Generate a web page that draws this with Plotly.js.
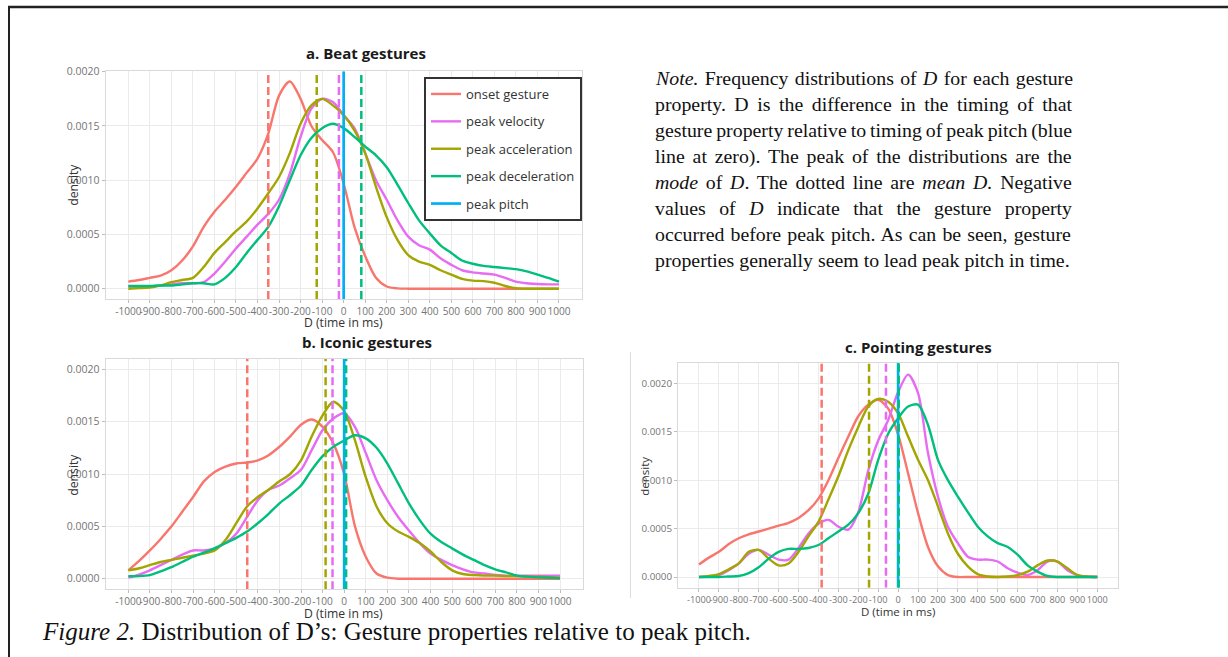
<!DOCTYPE html>
<html><head><meta charset="utf-8">
<script src="https://cdn.plot.ly/plotly-3.0.1.min.js"></script>
<style>html,body{margin:0;padding:0;background:#fff;} #chart{width:1228px;height:657px;}</style>
</head><body><div id="chart"></div>
<script>
// ---------- DATA ----------
const xGrid = [-1000,-950,-900,-850,-800,-750,-700,-650,-600,-550,-500,-450,-400,-350,-300,-250,-200,-150,-100,-50,0,50,100,150,200,250,300,350,400,450,500,550,600,650,700,750,800,850,900,950,1000];
const seriesNames = ["onset gesture","peak velocity","peak acceleration","peak deceleration"];
const pitchName = "peak pitch";
const peakPitch = 0;
const xTickVals = [-1000,-900,-800,-700,-600,-500,-400,-300,-200,-100,0,100,200,300,400,500,600,700,800,900,1000];
const xTickText = ["-1000","-900","-800","-700","-600","-500","-400","-300","-200","-100","0","100","200","300","400","500","600","700","800","900","1000"];
const panelTitles = ["a. Beat gestures","b. Iconic gestures","c. Pointing gestures"];
const xTitle = "D (time in ms)";
const yTitle = "density";

// a. Beat gestures
const beatOnset = [0.000065,0.00008,0.0001,0.00012,0.00017,0.00026,0.00039,0.00057,0.00071,0.00082,0.00094,0.00107,0.0012,0.00143,0.00178,0.00191,0.00175,0.0015,0.00137,0.00126,0.00097,0.00057,0.0003,0.0001,0.00002,0.000003,0,0,0,0,0,0,0,0,0,0,0,0,0,0,0];
const beatVelocity = [0.00002,0.00002,0.00002,0.00003,0.00004,0.00005,0.00005,0.00006,0.00014,0.00025,0.00037,0.00048,0.00059,0.00069,0.00082,0.00106,0.0014,0.00166,0.00175,0.00172,0.0016,0.00148,0.00125,0.001,0.00082,0.00063,0.00048,0.0004,0.00036,0.00028,0.00022,0.00017,0.00015,0.00014,0.00013,0.0001,0.000065,0.00005,0.000043,0.00004,0.00004];
const beatAccel = [0,0.000005,0.00001,0.00003,0.00006,0.00008,0.0001,0.0002,0.00033,0.00043,0.00053,0.00062,0.00074,0.00088,0.00103,0.00125,0.00152,0.00169,0.00175,0.00169,0.0016,0.00146,0.00125,0.00094,0.00066,0.00045,0.00031,0.00025,0.00022,0.00017,0.00013,0.00009,0.000074,0.00007,0.000055,0.000025,0.000005,0,0,0,0];
const beatDecel = [0.000025,0.000025,0.000025,0.00003,0.00003,0.00004,0.00005,0.00005,0.00004,0.0001,0.0002,0.00033,0.00045,0.00057,0.00076,0.001,0.00123,0.00139,0.00148,0.00152,0.00148,0.0014,0.00131,0.00123,0.00112,0.00096,0.00079,0.00063,0.00051,0.0004,0.00033,0.00026,0.00023,0.00021,0.0002,0.00019,0.00018,0.00016,0.00013,0.0001,0.000065];
const beatMeans = [-350,-22,-125,82];

// b. Iconic gestures
const iconicOnset = [0.00008,0.00017,0.00027,0.00038,0.0005,0.00064,0.00078,0.00093,0.00102,0.00107,0.0011,0.00111,0.00113,0.00118,0.00126,0.00136,0.00147,0.00152,0.00145,0.00129,0.001,0.0005,0.00021,0.00005,0.00001,0,0,0,0,0,0,0,0,0,0,0,0,0,0,0,0];
const iconicVelocity = [0.00001,0.00004,0.00008,0.00013,0.00018,0.00023,0.00027,0.00027,0.00029,0.00034,0.00043,0.00059,0.00075,0.00085,0.00089,0.00096,0.00104,0.00123,0.00142,0.00153,0.00158,0.00145,0.0012,0.00094,0.00075,0.00059,0.00046,0.00034,0.00024,0.00018,0.00013,0.00009,0.00006,0.00005,0.000035,0.00003,0.00003,0.00003,0.00003,0.00003,0.00003];
const iconicAccel = [0.00008,0.0001,0.00013,0.00016,0.00018,0.0002,0.00022,0.00024,0.00027,0.00037,0.00053,0.00069,0.00078,0.00085,0.00093,0.001,0.00113,0.00136,0.00156,0.00169,0.0016,0.00132,0.00097,0.00069,0.00053,0.00045,0.0004,0.00034,0.00026,0.00016,0.00008,0.000045,0.000035,0.00003,0.00003,0.000025,0.000025,0.00002,0.00002,0.000015,0.00001];
const iconicDecel = [0.000025,0.000025,0.000035,0.00007,0.00011,0.00016,0.00021,0.00025,0.00029,0.00034,0.00039,0.00045,0.00053,0.00062,0.00072,0.0008,0.00089,0.00104,0.00117,0.00126,0.00132,0.00137,0.00134,0.00125,0.0011,0.00091,0.00072,0.00056,0.00043,0.00035,0.00029,0.00023,0.00018,0.00013,0.00009,0.00006,0.00003,0.00002,0.000013,0.00001,0.000006];
const iconicMeans = [-449,-54,-86,9];

// c. Pointing gestures
const pointingOnset = [0.00013,0.0002,0.00026,0.00034,0.0004,0.00044,0.00047,0.0005,0.00053,0.00056,0.00061,0.00069,0.00081,0.001,0.00123,0.00145,0.00166,0.00178,0.00183,0.00174,0.00147,0.00107,0.00066,0.00031,0.00011,0.00002,0,0,0,0,0,0,0,0,0,0,0,0,0,0,0];
const pointingVelocity = [0,0.000005,0.00002,0.00007,0.00014,0.00024,0.00028,0.00023,0.00018,0.00018,0.0003,0.00045,0.00055,0.00059,0.00052,0.00049,0.00067,0.0011,0.00141,0.00162,0.00191,0.00209,0.0019,0.00128,0.00083,0.00052,0.00035,0.00021,0.00018,0.00018,0.00016,0.00009,0.000045,0.00002,0.00007,0.00016,0.00016,0.00007,0.00002,0.000005,0];
const pointingAccel = [0,0.00001,0.00003,0.00008,0.00014,0.00026,0.00028,0.00019,0.00012,0.00014,0.00026,0.00042,0.00057,0.0008,0.00104,0.00131,0.00155,0.00176,0.00184,0.00181,0.00169,0.00145,0.00121,0.001,0.00073,0.00045,0.00024,0.00011,0.00003,0.000005,0,0.000005,0.00002,0.000055,0.00012,0.00017,0.00016,0.00009,0.00002,0.000005,0];
const pointingDecel = [0,0,0,0.000005,0.00001,0.00004,0.0001,0.00019,0.00026,0.00029,0.00029,0.0003,0.00033,0.0004,0.00047,0.00054,0.00066,0.00086,0.00121,0.00148,0.00164,0.00176,0.00178,0.00157,0.00121,0.001,0.00083,0.00067,0.00052,0.00042,0.00035,0.00031,0.00023,0.00012,0.000055,0.00001,0,0,0,0,0];
const pointingMeans = [-384,-61,-146,3];

const noteLines = [
  "<i>Note.</i> Frequency distributions of <i>D</i> for each gesture",
  "property. D is the difference in the timing of that",
  "gesture property relative to timing of peak pitch (blue",
  "line at zero). The peak of the distributions are the",
  "<i>mode</i> of <i>D</i>. The dotted line are <i>mean D.</i> Negative",
  "values of <i>D</i> indicate that the gesture property",
  "occurred before peak pitch. As can be seen, gesture",
  "properties generally seem to lead peak pitch in time."
];
const captionText = "<i>Figure 2.</i> Distribution of D\u2019s: Gesture properties relative to peak pitch.";

// ---------- STYLE / LAYOUT ----------
const W = 1228, H = 657;
const seriesColors = ["#F8766D","#E76BF3","#A3A500","#00BF7D"];
const pitchColor = "#00B0F6";
const FONT = "Open Sans";
const SERIF = "Liberation Serif";
const px = v => v / W;
const py = v => 1 - v / H;

const panels = [
  {curves:[beatOnset,beatVelocity,beatAccel,beatDecel], means:beatMeans,
   xd:[105.7,581.6], yd:[299.0,71.2], yr:[-0.000095,0.002005], tx:10.1, ty:10.5, legend:true,
   title:[366,53], xt:[343,323], yt:[72.7,185], tsize:12.2},
  {curves:[iconicOnset,iconicVelocity,iconicAccel,iconicDecel], means:iconicMeans,
   xd:[105.65,582.7], yd:[589.2,358.8], yr:[-0.0001,0.0021], tx:10.1, ty:10.5, legend:false,
   title:[367,341.7], xt:[343.5,613.5], yt:[72.7,475], tsize:12.2},
  {curves:[pointingOnset,pointingVelocity,pointingAccel,pointingDecel], means:pointingMeans,
   xd:[678.05,1118.2], yd:[587.65,363.0], yr:[-0.00011,0.00221], tx:9.2, ty:9.8, legend:false,
   title:[918,347], xt:[898,611], yt:[645,476.7], tsize:11.5}
];

const traces = [];
const layout = {
  width:W, height:H, margin:{l:0,r:0,t:0,b:0}, paper_bgcolor:"#fff", plot_bgcolor:"#fff",
  showlegend:true,
  legend:{x:px(424), y:py(77), xanchor:"left", yanchor:"top", bgcolor:"#fff", bordercolor:"#333",
          borderwidth:2, font:{family:FONT,size:13,color:"#333"}, tracegroupgap:7.5, traceorder:"grouped"},
  annotations:[], shapes:[]
};

panels.forEach((p, k) => {
  const n = k + 1;
  const xa = n === 1 ? "x" : "x" + n, ya = n === 1 ? "y" : "y" + n;
  p.curves.forEach((c, i) => traces.push({
    type:"scatter", mode:"lines", x:xGrid, y:c, xaxis:xa, yaxis:ya, name:seriesNames[i],
    legendgroup:"g"+i, showlegend:p.legend, hoverinfo:"skip",
    line:{color:seriesColors[i], width:2.4, shape:"spline", smoothing:0.8}
  }));
  traces.push({type:"scatter", mode:"lines", x:[peakPitch,peakPitch], y:p.yr, xaxis:xa, yaxis:ya,
    name:pitchName, legendgroup:"g4", showlegend:p.legend, hoverinfo:"skip",
    line:{color:pitchColor, width:2.7}});
  p.means.forEach((m, i) => traces.push({type:"scatter", mode:"lines", x:[m,m], y:p.yr, xaxis:xa, yaxis:ya,
    showlegend:false, hoverinfo:"skip", line:{color:seriesColors[i], width:2.5, dash:"8px,4px"}}));

  layout["xaxis" + (n === 1 ? "" : n)] = {
    domain:[px(p.xd[0]), px(p.xd[1])], anchor:ya, range:[-1105,1105],
    tickmode:"array", tickvals:xTickVals, ticktext:xTickText, tickangle:0,
    showgrid:true, gridcolor:"#EBEBEB", gridwidth:1, zeroline:false,
    showline:true, mirror:true, linecolor:"#D9D9D9", linewidth:1,
    ticks:"outside", ticklen:3, tickcolor:"#BDBDBD",
    tickfont:{family:FONT, size:p.tx, color:"#757575"}, fixedrange:true
  };
  layout["yaxis" + (n === 1 ? "" : n)] = {
    domain:[py(p.yd[0]), py(p.yd[1])], anchor:xa, range:p.yr,
    tick0:0, dtick:0.0005, tickformat:".4f",
    showgrid:true, gridcolor:"#EBEBEB", gridwidth:1, zeroline:false,
    showline:true, mirror:true, linecolor:"#D9D9D9", linewidth:1,
    ticks:"outside", ticklen:3, tickcolor:"#BDBDBD",
    tickfont:{family:FONT, size:p.ty, color:"#757575"}, fixedrange:true
  };
  layout.annotations.push(
    {xref:"paper", yref:"paper", x:px(p.title[0]), y:py(p.title[1]), xanchor:"center", yanchor:"middle",
     text:"<b>"+panelTitles[k]+"</b>", showarrow:false, font:{family:FONT, size:15, color:"#1a1a1a"}},
    {xref:"paper", yref:"paper", x:px(p.xt[0]), y:py(p.xt[1]), xanchor:"center", yanchor:"middle",
     text:xTitle, showarrow:false, font:{family:FONT, size:p.tsize, color:"#333"}},
    {xref:"paper", yref:"paper", x:px(p.yt[0]), y:py(p.yt[1]), xanchor:"center", yanchor:"middle",
     text:yTitle, textangle:-90, showarrow:false, font:{family:FONT, size:p.tsize, color:"#333"}}
  );
});

// ---------- Note text (justified) ----------
const ctx = document.createElement("canvas").getContext("2d");
function measure(html, size, family) {
  let w = 0, italic = false;
  html.split(/(<i>|<\/i>)/).forEach(part => {
    if (part === "<i>") { italic = true; return; }
    if (part === "</i>") { italic = false; return; }
    ctx.font = (italic ? "italic " : "") + size + "px '" + family + "'";
    w += ctx.measureText(part).width;
  });
  return w;
}
const noteLeft = 652.7, noteWidth = 417;
const noteSize = 100 * 415 / measure(noteLines[noteLines.length-1], 100, SERIF);
const noteBaselines = [85,111,137,163,189,215,241,267];
noteLines.forEach((line, i) => {
  let txt = line;
  if (i < noteLines.length - 1) {
    const w = measure(line, noteSize, SERIF);
    const spaces = line.replace(/<[^>]+>/g, "").split(" ").length - 1;
    const ws = (noteWidth - w) / spaces;
    txt = "<span style='word-spacing:" + ws.toFixed(2) + "px'>" + line + "</span>";
  }
  layout.annotations.push({xref:"paper", yref:"paper", x:px(noteLeft), y:py(noteBaselines[i] - noteSize*0.33),
    xanchor:"left", yanchor:"middle", align:"left", text:txt, showarrow:false,
    font:{family:SERIF, size:noteSize, color:"#111"}});
});
const capSize = 100 * 708 / measure(captionText, 100, SERIF);
layout.annotations.push({xref:"paper", yref:"paper", x:px(40), y:py(639.3 - capSize*0.33),
  xanchor:"left", yanchor:"middle", align:"left", text:captionText, showarrow:false,
  font:{family:SERIF, size:capSize, color:"#111"}});

// ---------- frame lines ----------
layout.shapes.push(
  {type:"line", xref:"paper", yref:"paper", x0:px(8), x1:1, y0:py(7), y1:py(7), line:{color:"#222", width:2.5}},
  {type:"line", xref:"paper", yref:"paper", x0:px(9), x1:px(9), y0:py(6), y1:0, line:{color:"#222", width:2}},
  {type:"line", xref:"paper", yref:"paper", x0:px(630.5), x1:px(630.5), y0:py(352), y1:py(598), line:{color:"#dddddd", width:1}}
);

Plotly.newPlot("chart", traces, layout, {staticPlot:true, displayModeBar:false});
</script>
</body></html>
